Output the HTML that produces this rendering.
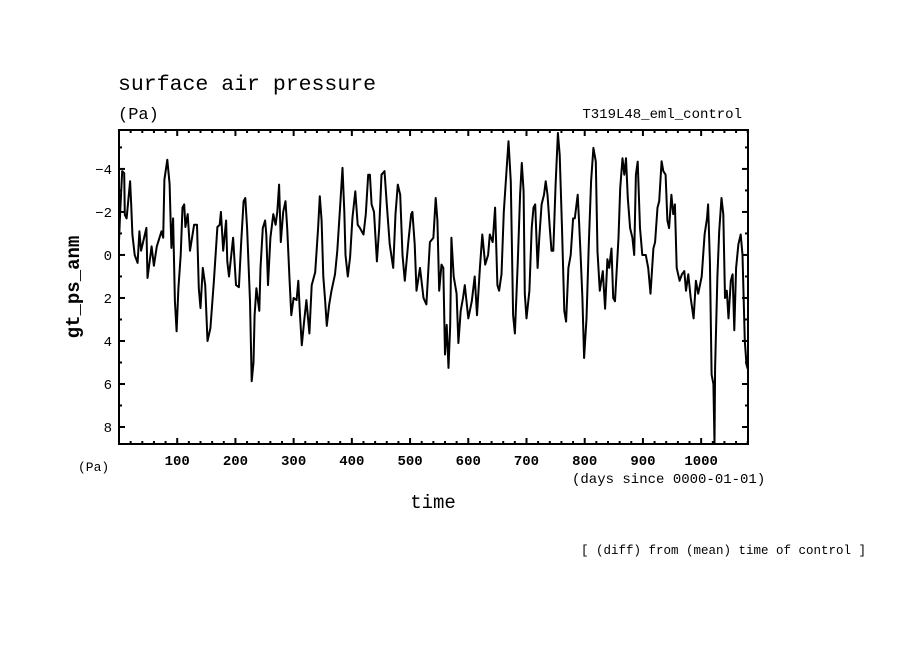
<!DOCTYPE html>
<html><head><meta charset="utf-8"><style>
html,body{margin:0;padding:0;background:#fff;}
svg{display:block;}
text{font-family:"Liberation Mono","DejaVu Sans Mono",monospace;fill:#000;}
</style></head><body>
<svg id="chart" width="904" height="654" viewBox="0 0 904 654">
<text x="118" y="90" font-size="21.5">surface air pressure</text>
<text x="118" y="119" font-size="17">(Pa)</text>
<text x="742" y="118" font-size="14" text-anchor="end">T319L48_eml_control</text>
<text x="0" y="0" font-size="19" font-weight="bold" text-anchor="middle" transform="translate(79,287) rotate(-90)">gt_ps_anm</text>
<text x="78" y="471" font-size="13">(Pa)</text>
<text x="572" y="483" font-size="14">(days since 0000-01-01)</text>
<text x="433" y="508" font-size="19" text-anchor="middle">time</text>
<text x="866" y="554" font-size="12.5" text-anchor="end">[ (diff) from (mean) time of control ]</text>
<g id="axes"></g>
<path id="series" fill="none" stroke="#000" stroke-width="2" stroke-linejoin="round"></path>
<rect x="119" y="130" width="629" height="314" fill="none" stroke="#000" stroke-width="2"></rect>
</svg>
<script>
const days = [0,2,5.5,9,10,13,19,21,23,27,32,35,38,47,49,56,60,65,73,76,78,83,87,89,90,93,96,99,102,106,109,112,114,118,122,129,134,137,140,144,148,152,157,163,169,173,175,179,184,186,189,196,201,206,210,214,217,220,225,228,231,233,236,241,243,247,251,253,256,260,265,269,272,275,278,282,286,289,293,296,300,305,308,311,314,318,322,327,331,337,342,345,348,351,354,357,361,365,371,375,380,384,387,389,393,397,401,406,410,414,420,424,428,431,434,438,443,447,451,456,460,465,471,475,479,483,487,491,497,502,504,508,511,517,523,528,534,540,544,547,550,554,557,560,563,566,569,571,575,580,583,587,591,594,600,606,611,615,620,624,629,634,637,642,646,650,653,657,661,666,669,673,677,680,685,689,692,695,697,700,705,709,712,715,719,722,726,730,733,736,740,743,746,750,754,757,761,765,768,772,776,780,783,788,790,793,796,799,803,807,811,815,819,822,826,831,835,839,842,846,849,852,858,861,865,868,871,874,878,882,885,888,891,895,899,905,909,913,918,921,925,928,932,935,939,942,945,949,952,955,958,963,967,971,974,978,982,987,991,995,1001,1006,1010,1012,1015,1018,1021,1023,1024,1028,1031,1035,1038,1041,1044,1047,1051,1054,1057,1060,1064,1068,1071,1075,1078,1080];
const values = [-0.64,-2.03,-3.9,-3.8,-1.87,-1.7,-3.43,-2.35,-0.95,0,0.37,-1.1,-0.2,-1.26,1.07,-0.4,0.5,-0.4,-1.1,-0.8,-3.5,-4.43,-3.3,-1.3,-0.33,-1.7,2.15,3.55,1.55,0,-2.2,-2.35,-1.3,-1.9,-0.2,-1.4,-1.4,1.55,2.47,0.6,1.4,4.0,3.4,1.2,-1.3,-1.4,-2.0,-0.2,-1.6,0.3,1.0,-0.8,1.4,1.5,-0.6,-2.5,-2.65,-1.25,2.15,5.87,5.0,2.8,1.55,2.6,0.6,-1.25,-1.6,-0.95,1.4,-0.8,-1.9,-1.4,-2.0,-3.27,-0.6,-2.0,-2.5,-1.25,1.2,2.8,2.0,2.1,1.2,2.8,4.2,3.1,2.1,3.65,1.4,0.8,-1.25,-2.73,-1.6,1.0,2.1,3.3,2.3,1.66,0.9,-0.2,-2.3,-4.05,-2.03,0,1.0,0.1,-1.7,-2.96,-1.4,-1.25,-0.95,-1.9,-3.73,-3.73,-2.35,-2.0,0.3,-1.25,-3.73,-3.9,-2.35,-0.5,0.6,-1.9,-3.27,-2.8,0,1.2,-0.6,-1.9,-2.0,-0.5,1.66,0.6,2.0,2.3,-0.6,-0.8,-2.65,-1.6,1.66,0.45,0.6,4.63,3.25,5.25,3.25,-0.8,1.0,1.8,4.1,2.6,2.0,1.4,2.95,2.15,1.0,2.8,0.6,-0.95,0.45,0,-0.95,-0.6,-2.2,1.4,1.66,0.9,-2.0,-4.05,-5.29,-3.4,2.8,3.65,0.3,-2.8,-4.28,-2.96,1.8,2.95,1.66,-1.25,-2.2,-2.35,0.6,-0.8,-2.35,-2.8,-3.43,-2.8,-1.25,-0.2,-0.2,-3.27,-5.67,-4.65,-1.25,2.6,3.1,0.6,0,-1.7,-1.7,-2.8,-1.7,0,2.0,4.79,2.95,-0.5,-3.43,-4.98,-4.34,-0.15,1.66,0.75,2.5,0.2,0.6,-0.3,2.0,2.15,-0.8,-3.1,-4.5,-3.73,-4.5,-2.65,-1.25,-0.8,0,-3.73,-4.34,-1.25,0,0,0.6,1.8,-0.3,-0.6,-2.2,-2.5,-4.36,-3.9,-3.73,-1.6,-1.25,-2.8,-1.9,-2.35,0.6,1.2,0.9,0.75,1.66,0.9,2.0,2.95,1.2,1.8,1.0,-0.95,-1.7,-2.35,0.3,5.56,6.0,8.8,5.25,1.0,-1.1,-2.65,-1.9,2.0,1.66,2.95,1.2,0.9,3.5,0.6,-0.5,-0.95,0,4.0,5.1,5.3];
const xTickLabels = [100,200,300,400,500,600,700,800,900,1000];
const yTickLabels = [-4,-2,0,2,4,6,8];

const X0=119, X1=748, Y0=130, Y1=444;
const xMin=0, xMax=1080.5, yMin=-5.81, yMax=8.79;
function xs(d){return X0+(d-xMin)/(xMax-xMin)*(X1-X0);}
function ys(v){return Y0+(v-yMin)/(yMax-yMin)*(Y1-Y0);}

const ns='http://www.w3.org/2000/svg';
const axes=document.getElementById('axes');
function line(x1,y1,x2,y2,name){
  const l=document.createElementNS(ns,'line');
  l.setAttribute('x1',x1);l.setAttribute('y1',y1);l.setAttribute('x2',x2);l.setAttribute('y2',y2);
  l.setAttribute('stroke','#000');l.setAttribute('stroke-width','2');
  
  
  axes.appendChild(l);
}
for(let d=20; d<xMax; d+=20){
  const x=xs(d); const major=(d%100===0); const len=major?6:3;
  line(x,Y0,x,Y0+len,'x-tick');
  line(x,Y1,x,Y1-len,'x-tick');
}
for(let v=-5; v<=8; v+=1){
  const y=ys(v); const major=(v%2===0); const len=major?6:3;
  line(X0,y,X0+len,y,'y-tick');
  line(X1,y,X1-len,y,'y-tick');
}
xTickLabels.forEach(d=>{
  const t=document.createElementNS(ns,'text');
  t.setAttribute('x',xs(d));t.setAttribute('y',465);t.setAttribute('font-size','14');t.setAttribute('text-anchor','middle');t.setAttribute('font-weight','bold');
  t.textContent=d;
  
  
  axes.appendChild(t);
});
yTickLabels.forEach(v=>{
  const t=document.createElementNS(ns,'text');
  t.setAttribute('x',112);t.setAttribute('y',ys(v)+5);t.setAttribute('font-size','14');t.setAttribute('text-anchor','end');
  t.textContent=(v<0?'\u2212'+(-v):v);
  
  
  axes.appendChild(t);
});
let d='';
for(let i=0;i<days.length;i++){
  const v=Math.max(yMin,Math.min(yMax,values[i]));
  d+=(i?'L':'M')+xs(days[i]).toFixed(1)+','+ys(v).toFixed(1);
}
document.getElementById('series').setAttribute('d',d);
</script>
</body></html>
